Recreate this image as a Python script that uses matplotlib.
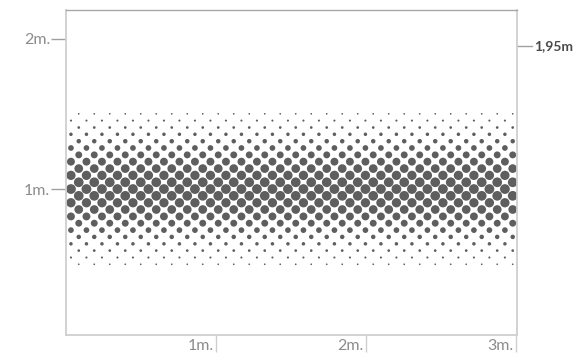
import numpy as np
import matplotlib
matplotlib.use("Agg")
import matplotlib.pyplot as plt
import matplotlib.transforms as mtransforms

plt.rcParams["font.family"] = ["Lato", "DejaVu Sans"]

# band of halftone rows (height in m) and dot diameter per row (px)
row_heights = [0.50, 0.545, 0.591, 0.636, 0.682, 0.727, 0.773, 0.818, 0.864, 0.909, 0.955,
               1.00,
               1.045, 1.091, 1.136, 1.182, 1.227, 1.273, 1.318, 1.364, 1.409, 1.455, 1.50]
dot_diam = [1.7, 2.1, 2.7, 3.5, 4.5, 5.7, 6.9, 7.9, 8.7, 9.3, 9.7,
            9.8,
            9.7, 9.3, 8.7, 7.9, 6.9, 5.7, 4.5, 3.5, 2.7, 2.1, 1.7]
col_step = 0.1033     # m between dots in a row
col_start = [0.033, 0.085]  # even / odd rows

y_ticks = [1, 2]
y_labels = ["1m.", "2m."]
x_ticks = [1, 2, 3]
x_labels = ["1m.", "2m.", "3m."]
marker_h = 1.95
marker_label = "1,95m"

W, H = 582, 363
fig = plt.figure(figsize=(W / 100, H / 100), dpi=100)
ax = fig.add_axes([66 / W, (H - 335) / H, 451 / W, 325 / H])

xs, ys, ss = [], [], []
for i, (h, d) in enumerate(zip(row_heights, dot_diam)):
    xr = np.arange(col_start[(i + 1) % 2], 3.0, col_step)
    xs.extend(xr)
    ys.extend([h] * len(xr))
    ss.extend([(d * 0.72) ** 2] * len(xr))
ax.scatter(xs, ys, s=ss, c="#5e5e5e", linewidths=0)

ax.set_xlim(0, 3.006)
ax.set_ylim(0.03, 2.19)

for side in ["left", "bottom", "right"]:
    ax.spines[side].set_color("#cfcfcf")
    ax.spines[side].set_linewidth(1.3)
ax.spines["top"].set_color("#a8a8a8")
ax.spines["top"].set_linewidth(1.0)

tick_grey = "#a0a0a0"
lab_grey = "#8c8c8c"
ax.set_yticks(y_ticks)
ax.set_yticklabels(y_labels, color=lab_grey, fontsize=11.5)
ax.tick_params(axis="y", length=10.8, width=1, color=tick_grey, pad=0.5)

ax.set_xticks(x_ticks)
ax.set_xticklabels([])
ax.tick_params(axis="x", length=12, width=1, color="#cfcfcf")
trans = mtransforms.blended_transform_factory(ax.transData, ax.transAxes)
for xt, lab in zip(x_ticks, x_labels):
    ax.annotate(lab, xy=(xt, 0), xycoords=trans, xytext=(-2.5, -18),
                textcoords="offset pixels", ha="right", va="bottom",
                color=lab_grey, fontsize=11.5)

# right-side marker
trans_r = mtransforms.blended_transform_factory(ax.transAxes, ax.transData)
ax.plot([1.0, 1.0 + 15 / 451], [marker_h, marker_h], transform=trans_r,
        color=tick_grey, lw=1, clip_on=False)
ax.text(1.0 + 17 / 451, marker_h, marker_label, transform=trans_r,
        ha="left", va="center", fontsize=10, fontweight="bold", color="#4a4a4a")

fig.savefig("out.png", dpi=100)
